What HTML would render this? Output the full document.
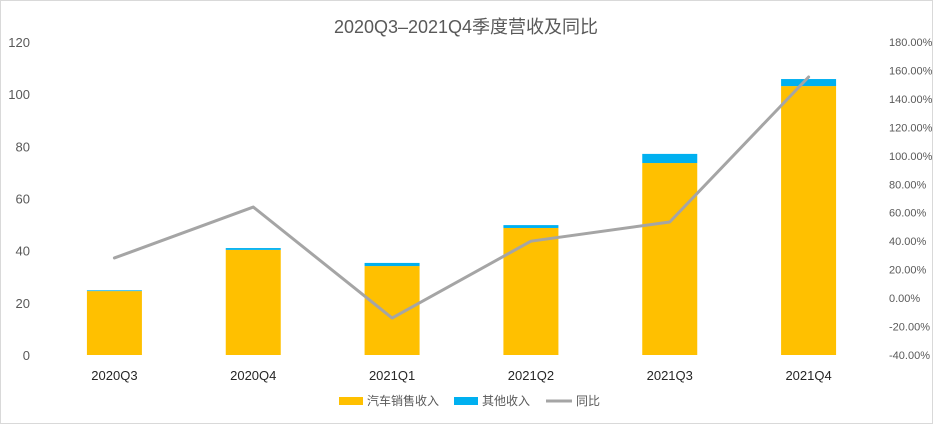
<!DOCTYPE html>
<html><head><meta charset="utf-8"><style>
body{margin:0;background:#fff}
svg{display:block;font-family:"Liberation Sans","Noto Sans CJK SC",sans-serif}
</style></head><body>
<svg id="chart" width="933" height="424">
<rect x="0.5" y="0.5" width="932" height="423" fill="#fff" stroke="#d9d9d9"/>
<text x="466" y="33" text-anchor="middle" font-size="18" fill="#595959">2020Q3–2021Q4季度营收及同比</text>
<g id="yl"></g>
<g id="yr"></g>
<g id="bars"></g>
<g id="line"></g>
<g id="xl"></g>
<g>
<rect x="339" y="397" width="24" height="8" fill="#ffc000"/>
<text x="367" y="405" font-size="12" fill="#595959">汽车销售收入</text>
<rect x="454" y="397" width="24" height="8" fill="#00b0f0"/>
<text x="482" y="405" font-size="12" fill="#595959">其他收入</text>
<line x1="546" y1="401" x2="572" y2="401" stroke="#a5a5a5" stroke-width="3"/>
<text x="576" y="405" font-size="12" fill="#595959">同比</text>
</g>
</svg>
<script>
const categories=["2020Q3","2020Q4","2021Q1","2021Q2","2021Q3","2021Q4"];
const carRevenue=[24.5,40.3,34.1,48.7,73.6,103.1];
const otherRevenue=[0.3,0.7,1.2,1.1,3.5,2.7];
const yoy=[28.2,64,-14,40,53.5,155.4];
const leftTicks=[0,20,40,60,80,100,120];
const rightTicks=[-40,-20,0,20,40,60,80,100,120,140,160,180];
const NS="http://www.w3.org/2000/svg";
const x0=45,x1=878,yB=355,yT=42;
const yL=v=>yB-(v-0)/120*(yB-yT);
const yR=v=>yB-(v+40)/220*(yB-yT);
const step=(x1-x0)/categories.length;
const xC=i=>x0+step*(i+0.5);
function mk(t,a,p){const e=document.createElementNS(NS,t);for(const k in a)e.setAttribute(k,a[k]);p.appendChild(e);return e;}
const gl=document.getElementById('yl'),gr=document.getElementById('yr'),gb=document.getElementById('bars'),gx=document.getElementById('xl'),gline=document.getElementById('line');
leftTicks.forEach(v=>{const t=mk('text',{x:30,y:yL(v)+5,'text-anchor':'end','font-size':13,fill:'#595959'},gl);t.textContent=v;

});
rightTicks.forEach(v=>{const t=mk('text',{x:889,y:yR(v)+4,'font-size':11,fill:'#595959'},gr);t.textContent=v.toFixed(2)+'%';

});
const bw=55;
categories.forEach((c,i)=>{
const r1=mk('rect',{x:xC(i)-bw/2,y:yL(carRevenue[i]),width:bw,height:yB-yL(carRevenue[i]),fill:'#ffc000'},gb);


const tot=carRevenue[i]+otherRevenue[i];
const r2=mk('rect',{x:xC(i)-bw/2,y:yL(tot),width:bw,height:yL(carRevenue[i])-yL(tot),fill:'#00b0f0'},gb);


const t=mk('text',{x:xC(i),y:380,'text-anchor':'middle','font-size':13,fill:'#262626'},gx);t.textContent=c;


});
const pl=mk('polyline',{points:yoy.map((v,i)=>xC(i)+','+yR(v)).join(' '),fill:'none',stroke:'#a5a5a5','stroke-width':3,'stroke-linejoin':'round','stroke-linecap':'round'},gline);


</script>
</body></html>
